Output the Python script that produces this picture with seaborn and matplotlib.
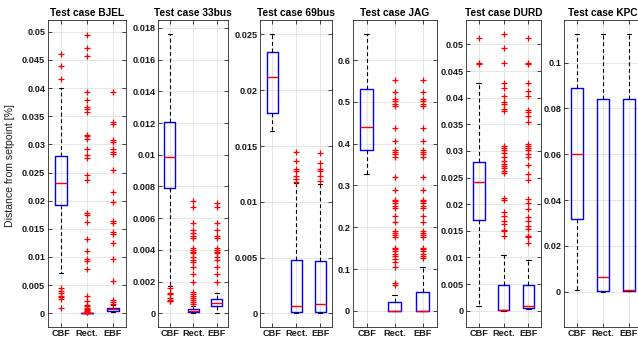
import numpy as np
import matplotlib
matplotlib.use("Agg")
import matplotlib.pyplot as plt
import seaborn as sns

methods = ["CBF", "Rect.", "EBF"]
cases = ["BJEL", "33bus", "69bus", "JAG", "DURD", "KPC"]

# Box statistics per method: [lower whisker, Q1, median, Q3, upper whisker]
bjel_stats = [[0.0071, 0.0192, 0.0231, 0.0280, 0.0401],
              [0.0, 0.0, 0.0, 0.00005, 0.0001],
              [0.0002, 0.00046, 0.00076, 0.0010, 0.0015]]
bjel_cbf_out = [0.0461, 0.0439, 0.0417, 0.0044, 0.0040, 0.0036, 0.0031,
                0.0028, 0.0025, 0.0009]
bjel_rect_out = [0.0495, 0.0472, 0.0457, 0.0393, 0.0378, 0.0366, 0.0362,
                 0.0358, 0.0317, 0.0314, 0.0310, 0.0292, 0.0281, 0.0276,
                 0.0246, 0.0237, 0.0178, 0.0175, 0.0162, 0.0132, 0.0111,
                 0.0096, 0.0093, 0.0078, 0.0030, 0.0021, 0.0015, 0.0012,
                 0.0009, 0.0007, 0.0005, 0.0004, 0.0003, 0.0002]
bjel_ebf_out = [0.0393, 0.0339, 0.0337, 0.0308, 0.0305, 0.0291, 0.0286,
                0.0283, 0.0254, 0.0215, 0.0197, 0.0163, 0.0160, 0.0144,
                0.0140, 0.0124, 0.0097, 0.0058, 0.0024, 0.0020, 0.0017]

bus33_stats = [[0.00174, 0.00789, 0.00985, 0.01204, 0.01762],
               [0.0, 0.0001, 0.00016, 0.00029, 0.00046],
               [0.00004, 0.00048, 0.00067, 0.00088, 0.0013]]
bus33_cbf_out = [0.00162, 0.00126, 0.00122, 0.00095, 0.00084, 0.00080,
                 0.00078]
bus33_rect_out = [0.00709, 0.00673, 0.00568, 0.00522, 0.00505, 0.00488,
                  0.00474, 0.00410, 0.00400, 0.00389, 0.00379, 0.00354,
                  0.00337, 0.00326, 0.00291, 0.00246, 0.00200, 0.00135,
                  0.00122, 0.00109, 0.00097, 0.00084, 0.00071, 0.00059]
bus33_ebf_out = [0.00698, 0.00673, 0.00568, 0.00522, 0.00488, 0.00474,
                 0.00410, 0.00400, 0.00389, 0.00379, 0.00354, 0.00337,
                 0.00291, 0.00246, 0.00200]

bus69_stats = [[0.01634, 0.01792, 0.02115, 0.02344, 0.0250],
               [0.0, 0.00012, 0.00065, 0.00475, 0.01168],
               [0.0, 0.00012, 0.00083, 0.00473, 0.01159]]
bus69_cbf_out = []
bus69_rect_out = [0.01448, 0.01368, 0.01293, 0.01278, 0.01233, 0.01204,
                  0.01180]
bus69_ebf_out = [0.01439, 0.01352, 0.01290, 0.01275, 0.01233, 0.01188]

jag_stats = [[0.327, 0.385, 0.441, 0.530, 0.662],
             [0.0, 0.0, 0.0, 0.021, 0.037],
             [0.0, 0.0, 0.0, 0.045, 0.105]]
jag_cbf_out = []
jag_rect_out = [0.553, 0.524, 0.506, 0.501, 0.496, 0.491, 0.437, 0.407,
                0.385, 0.380, 0.375, 0.369, 0.321, 0.289, 0.266, 0.262,
                0.257, 0.252, 0.247, 0.228, 0.212, 0.191, 0.187, 0.182,
                0.177, 0.151, 0.147, 0.142, 0.137, 0.132, 0.123, 0.118,
                0.104, 0.066, 0.061]
jag_ebf_out = [0.553, 0.524, 0.506, 0.501, 0.496, 0.491, 0.437, 0.407,
               0.385, 0.380, 0.375, 0.369, 0.321, 0.289, 0.266, 0.262,
               0.257, 0.252, 0.247, 0.228, 0.212, 0.191, 0.187, 0.182,
               0.177, 0.151, 0.147, 0.142, 0.137, 0.132, 0.126]

durd_stats = [[0.0009, 0.0170, 0.0241, 0.0280, 0.0427],
              [0.0, 0.0001, 0.0001, 0.0048, 0.0105],
              [0.0004, 0.0006, 0.0009, 0.0048, 0.0096]]
durd_cbf_out = [0.0513, 0.0466, 0.0464]
durd_rect_out = [0.0519, 0.0494, 0.0466, 0.0427, 0.0419, 0.0404, 0.0392,
                 0.0389, 0.0379, 0.0376, 0.0309, 0.0306, 0.0302, 0.0296,
                 0.0289, 0.0281, 0.0275, 0.0272, 0.0268, 0.0263, 0.0258,
                 0.0212, 0.0208, 0.0185, 0.0178, 0.0169, 0.0163, 0.0151,
                 0.0149, 0.0140]
durd_ebf_out = [0.0513, 0.0466, 0.0464, 0.0427, 0.0413, 0.0404, 0.0377,
                0.0373, 0.0365, 0.0355, 0.0314, 0.0310, 0.0306, 0.0302,
                0.0295, 0.0289, 0.0273, 0.0257, 0.0245, 0.0210, 0.0202,
                0.0191, 0.0176, 0.0169, 0.0159, 0.0154, 0.0141, 0.0138,
                0.0127]

kpc_stats = [[0.0007, 0.0317, 0.0600, 0.0888, 0.1124],
             [0.0, 0.0001, 0.0063, 0.0843, 0.1124],
             [0.0002, 0.0003, 0.0009, 0.0840, 0.1124]]
kpc_cbf_out = []
kpc_rect_out = []
kpc_ebf_out = []

# y-axis ticks and limits per test case
tick_max = [0.05, 0.018, 0.025, 0.6, 0.05, 0.1]
tick_step = [0.005, 0.002, 0.005, 0.1, 0.005, 0.02]
y_limits = [(-0.0024, 0.0521), (-0.00085, 0.0185), (-0.0012, 0.0263),
            (-0.038, 0.696), (-0.0030, 0.0546), (-0.0153, 0.1186)]

all_stats = [bjel_stats, bus33_stats, bus69_stats, jag_stats, durd_stats,
             kpc_stats]
all_outliers = [[bjel_cbf_out, bjel_rect_out, bjel_ebf_out],
                [bus33_cbf_out, bus33_rect_out, bus33_ebf_out],
                [bus69_cbf_out, bus69_rect_out, bus69_ebf_out],
                [jag_cbf_out, jag_rect_out, jag_ebf_out],
                [durd_cbf_out, durd_rect_out, durd_ebf_out],
                [kpc_cbf_out, kpc_rect_out, kpc_ebf_out]]

sns.set_theme(style="whitegrid")
plt.rcParams["font.family"] = ["Liberation Sans", "DejaVu Sans"]
plt.rcParams["axes.edgecolor"] = "0.15"
plt.rcParams["axes.linewidth"] = 0.6
plt.rcParams["grid.color"] = "#dcdcdc"
plt.rcParams["grid.linewidth"] = 0.5

W, H = 638, 342
fig = plt.figure(figsize=(W / 100, H / 100), dpi=100)
fig.patch.set_facecolor("white")

# panel placement in pixels: (left, width)
panel_px = [(48, 78), (158.3, 70), (260.3, 72), (353, 83.5), (466.3, 74.5),
            (564, 78)]
top_px, bottom_px = 20, 326.7

positions = [1, 2, 3]
for i, case in enumerate(cases):
    left, width = panel_px[i]
    ax = fig.add_axes([left / W, 1 - bottom_px / H, width / W,
                       (bottom_px - top_px) / H])
    ax.set_facecolor("white")
    ax.set_axisbelow(True)
    stats = [dict(whislo=s[0], q1=s[1], med=s[2], q3=s[3], whishi=s[4],
                  fliers=[]) for s in all_stats[i]]
    ax.bxp(stats, positions=positions, widths=0.47, capwidths=0.18,
           showfliers=False, manage_ticks=False,
           boxprops=dict(color="blue", linewidth=1.0),
           medianprops=dict(color="red", linewidth=1.0),
           whiskerprops=dict(color="black", linewidth=0.8,
                             linestyle=(0, (3.5, 2.5))),
           capprops=dict(color="black", linewidth=0.8))
    for pos, outs in zip(positions, all_outliers[i]):
        if len(outs) == 0:
            continue
        sns.scatterplot(x=np.full(len(outs), pos), y=outs, marker="+",
                        color="red", s=20, linewidth=0.9, ax=ax,
                        legend=False, zorder=3)

    ticks = np.arange(0, tick_max[i] + tick_step[i] / 2, tick_step[i])
    ax.set_yticks(ticks)
    ax.set_yticklabels([f"{round(t, 6):g}" for t in ticks])
    ax.set_ylim(*y_limits[i])
    ax.set_xlim(0.5, 3.5)
    ax.set_xticks(positions)
    ax.set_xticklabels(methods)
    ax.set_xlabel("")
    ax.set_ylabel("")
    ax.grid(True, axis="both")
    ax.tick_params(direction="in", length=3, width=0.6, color="0.15",
                   left=True, right=True, top=True, bottom=True,
                   labelsize=6.6, pad=2, labelcolor="0.1")
    for lbl in ax.get_xticklabels() + ax.get_yticklabels():
        lbl.set_fontweight("bold")
    for sp in ax.spines.values():
        sp.set_visible(True)
        sp.set_color("0.15")
        sp.set_linewidth(0.6)
    ax.set_title(f"Test case {case}", fontsize=7.3, fontweight="bold",
                 pad=3, color="black")

fig.text(10 / W, 1 - 166 / H, "Distance from setpoint [%]", rotation=90,
         ha="center", va="center", fontsize=7.6, color="0.1")

fig.savefig("out.png", dpi=100)
